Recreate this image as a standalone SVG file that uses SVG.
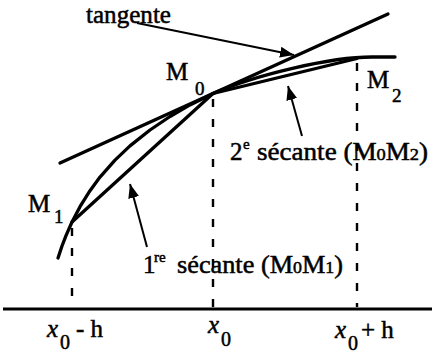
<svg xmlns="http://www.w3.org/2000/svg" width="432" height="355" viewBox="0 0 432 355">
<style>
  text { font-family: 'Liberation Serif', 'Times New Roman', serif; font-size: 25px; fill: #000; stroke: #000; stroke-width: 0.5; }
  .i { font-style: italic; }
  .thick { fill: none; stroke: #000; stroke-width: 3.3; stroke-linecap: round; stroke-linejoin: round; }
  .dash { fill: none; stroke: #000; stroke-width: 2.4; stroke-dasharray: 8 12; }
  .arr { fill: none; stroke: #000; stroke-width: 2; marker-end: url(#ah); }
</style>
<defs>
  <marker id="ah" markerUnits="userSpaceOnUse" markerWidth="15" markerHeight="11" refX="14" refY="5.5" orient="auto">
    <path d="M0,0 L14,5.5 L0,11 z" fill="#000"/>
  </marker>
</defs>
<rect width="432" height="355" fill="#fff"/>

<g id="axis">
  <line x1="3" y1="309" x2="432" y2="309" stroke="#000" stroke-width="3"/>
</g>

<g id="guides">
  <line class="dash" x1="72" y1="228" x2="72" y2="307"/>
  <line class="dash" x1="213" y1="99" x2="213" y2="307"/>
  <line class="dash" x1="357" y1="63" x2="357" y2="307"/>
</g>

<g id="curve">
  <path class="thick" d="M58,258 L62,246 L66,235.6 L72,222 L80,206.7 L90,190.7 L100,177.1 L115,160.1 L130,145.9 L150,130 L170,116.5 L190,104.9 L213,93.5 C255,75 330,57 372,57 L395,57"/>
</g>

<g id="tangent">
  <line class="thick" x1="60" y1="163" x2="388" y2="14"/>
</g>

<g id="secants">
  <line class="thick" x1="72" y1="222" x2="213" y2="93.5"/>
  <line class="thick" x1="213" y1="93.5" x2="357" y2="58.5"/>
</g>

<g id="connectors">
  <line class="arr" x1="137" y1="23" x2="294" y2="55"/>
  <line class="arr" x1="302" y1="136" x2="288" y2="86"/>
  <line class="arr" x1="147" y1="247" x2="130" y2="184"/>
</g>

<g id="label-tangente">
  <text x="86" y="23" textLength="85" lengthAdjust="spacingAndGlyphs">tangente</text>
</g>
<g id="label-M0">
  <text x="166" y="80">M</text>
  <text x="195" y="95" style="font-size:19px">0</text>
</g>
<g id="label-M1">
  <text x="28" y="212">M</text>
  <text x="54" y="223" style="font-size:19px">1</text>
</g>
<g id="label-M2">
  <text x="367" y="88">M</text>
  <text x="392" y="102" style="font-size:19px">2</text>
</g>
<g id="label-secante2">
  <text x="230" y="160">2</text>
  <text x="243" y="149" style="font-size:15px">e</text>
  <text x="257" y="160" textLength="171" lengthAdjust="spacingAndGlyphs">sécante (M<tspan style="font-size:17px">0</tspan>M<tspan style="font-size:17px">2</tspan>)</text>
</g>
<g id="label-secante1">
  <text x="143" y="273">1</text>
  <text x="154" y="262" style="font-size:15px">re</text>
  <text x="177" y="273" textLength="166" lengthAdjust="spacingAndGlyphs">sécante (M<tspan style="font-size:17px">0</tspan>M<tspan style="font-size:17px">1</tspan>)</text>
</g>
<g id="label-x0mh">
  <text class="i" x="47" y="337">x</text>
  <text x="60" y="349" style="font-size:20px">0</text>
  <text x="76" y="337">- h</text>
</g>
<g id="label-x0">
  <text class="i" x="208" y="333">x</text>
  <text x="221" y="346" style="font-size:20px">0</text>
</g>
<g id="label-x0ph">
  <text class="i" x="335" y="338">x</text>
  <text x="348" y="350" style="font-size:20px">0</text>
  <text x="361" y="338">+ h</text>
</g>
</svg>
